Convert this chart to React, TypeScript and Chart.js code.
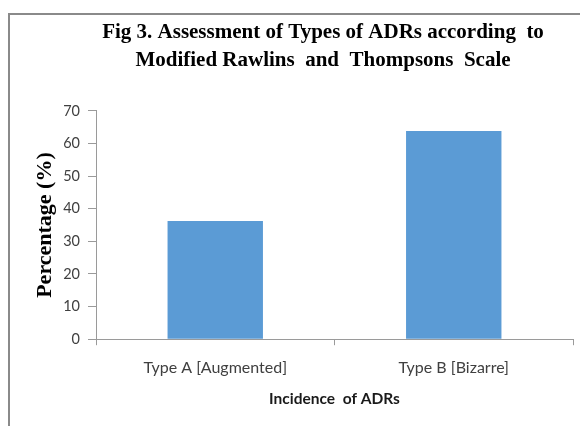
import React, { useEffect, useRef } from "react";
import { Chart, registerables } from "chart.js";

Chart.register(...registerables);

const categories = ["Type A [Augmented]", "Type B [Bizarre]"];
const percentages = [36.2, 63.8];
const titleLines = [
  "Fig 3. Assessment of Types of ADRs according  to",
  "Modified Rawlins  and  Thompsons  Scale",
];
const yAxisTitle = "Percentage (%)";
const xAxisTitle = "Incidence  of ADRs";

const framePlugin = {
  id: "frame",
  beforeDraw(chart: any) {
    const ctx = chart.ctx;
    ctx.save();
    ctx.fillStyle = "#ffffff";
    ctx.fillRect(0, 0, chart.width, chart.height);
    ctx.strokeStyle = "#8a8a8a";
    ctx.lineWidth = 2;
    ctx.strokeRect(9, 14, chart.width + 20, chart.height + 20);
    ctx.restore();
  },
  afterLayout(chart: any) {
    // shift the title's centre to match the reference
    if (chart.titleBlock) {
      chart.titleBlock.left = 73;
    }
  },
};

export default function App() {
  const ref = useRef<HTMLCanvasElement | null>(null);
  useEffect(() => {
    if (!ref.current) return;
    const chart = new Chart(ref.current, {
      type: "bar",
      data: {
        labels: categories,
        datasets: [
          {
            data: percentages,
            backgroundColor: "#5b9bd5",
            borderWidth: 0,
            categoryPercentage: 0.4,
            barPercentage: 1,
          },
        ],
      },
      plugins: [framePlugin],
      options: {
        animation: false,
        responsive: false,
        devicePixelRatio: 1,
        layout: { padding: { left: 0, right: 7, top: 0, bottom: 18 } },
        plugins: {
          legend: { display: false },
          tooltip: { enabled: false },
          title: {
            display: true,
            text: titleLines,
            color: "#000000",
            font: { family: "Liberation Serif", size: 21, weight: "bold", lineHeight: 1.33 },
            padding: { top: 19, bottom: 36 },
          },
        },
        scales: {
          x: {
            grid: {
              offset: true,
              drawOnChartArea: false,
              drawTicks: true,
              tickLength: 6,
              color: "#9a9a9a",
            },
            border: { display: true, color: "#9a9a9a", width: 1 },
            ticks: {
              color: "#404040",
              font: { family: "Lato", size: 16 },
              padding: 13,
              maxRotation: 0,
            },
            title: {
              display: true,
              text: xAxisTitle,
              color: "#1a1a1a",
              font: { family: "Lato", size: 15.5, weight: "bold" },
              padding: { top: -1, bottom: 0 },
            },
          },
          y: {
            min: 0,
            max: 70,
            afterFit(scale: any) {
              scale.width = 96;
            },
            grid: {
              drawOnChartArea: false,
              drawTicks: true,
              tickLength: 8,
              color: "#9a9a9a",
            },
            border: { display: true, color: "#9a9a9a", width: 1 },
            ticks: {
              stepSize: 10,
              color: "#404040",
              font: { family: "Lato", size: 14.5 },
              padding: 8,
            },
            title: {
              display: true,
              text: yAxisTitle,
              color: "#000000",
              font: { family: "Liberation Serif", size: 22, weight: "bold" },
              padding: { top: 32, bottom: 0 },
            },
          },
        },
      },
    });
    return () => chart.destroy();
  }, []);
  return (
    <div style={{ position: "absolute", left: 0, top: 0, width: 580, height: 426 }}>
      <canvas ref={ref} width={580} height={426} />
    </div>
  );
}
